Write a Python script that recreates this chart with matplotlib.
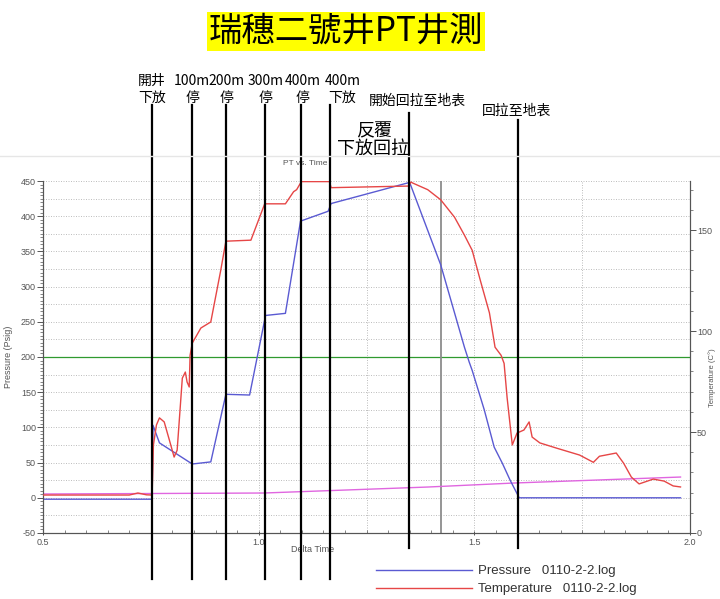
import matplotlib
matplotlib.use("Agg")
import matplotlib.pyplot as plt
from matplotlib.ticker import MultipleLocator
from matplotlib.transforms import blended_transform_factory
from matplotlib.lines import Line2D

plt.rcParams['font.family'] = ['Noto Sans CJK TC', 'DejaVu Sans']
plt.rcParams['axes.unicode_minus'] = False

# pressure log (Psig) vs delta time
p_time = [0.5, 0.753, 0.755, 0.770, 0.846, 0.889, 0.924, 0.979, 1.016, 1.062,
          1.097, 1.161, 1.168, 1.247, 1.350, 1.422, 1.477, 1.488, 1.495, 1.523,
          1.546, 1.565, 1.583, 1.604, 1.978]
p_val = [-2, -2, 103, 78, 48, 51, 147, 146, 259, 262,
         393, 407, 418, 431, 448, 331, 214, 193, 181, 125,
         72, 49, 25, 0, 0]

# temperature log (C) vs delta time
t_time = [0.5, 0.70, 0.72, 0.74, 0.753, 0.756, 0.763, 0.770, 0.781, 0.793,
          0.804, 0.811, 0.823, 0.830, 0.834, 0.839, 0.841, 0.846, 0.866, 0.889,
          0.912, 0.924, 0.982, 1.014, 1.062, 1.081, 1.088, 1.099, 1.164, 1.168,
          1.348, 1.353, 1.357, 1.392, 1.422, 1.454, 1.477, 1.495, 1.514, 1.535,
          1.548, 1.562, 1.569, 1.576, 1.588, 1.599, 1.615, 1.627, 1.634, 1.652,
          1.691, 1.744, 1.776, 1.790, 1.829, 1.846, 1.864, 1.882, 1.915, 1.940,
          1.961, 1.978]
t_val = [18.8, 18.8, 19.8, 18.9, 18.8, 43.6, 53.5, 57, 55, 46,
         37.6, 41, 76.7, 79.7, 74.8, 72.3, 88, 94, 101.5, 104.5,
         130, 144.5, 145, 163, 163, 169, 170, 174, 174, 171,
         171.8, 173.8, 173.3, 170, 165, 156.4, 147.5, 140, 125, 109,
         92, 88, 84, 67, 43.6, 49.5, 51, 55, 47.5, 44.6,
         42, 38.6, 35, 38, 39.6, 34.6, 27.7, 24.3, 26.7, 25.7,
         23.3, 22.8]

# third trace (left axis)
m_time = [0.5, 1.012, 1.392, 1.592, 1.978]
m_val = [5.4, 6.8, 15.3, 21, 29.5]

ref_pressure = 200

# operation events along the run
event_time = [0.753, 0.846, 0.924, 1.014, 1.097, 1.166]
event_text = [("開井", "下放"), ("100m", "停"), ("200m", "停"),
              ("300m", "停"), ("400m", "停"), ("400m", "下放")]
pull_time = [1.348, 1.601]
pull_text = ["開始回拉至地表", "回拉至地表"]
marker_time = 1.422

fig = plt.figure(figsize=(7.2, 5.99), dpi=100)
ax = fig.add_axes([43 / 720, 1 - 533 / 599, 647 / 720, 352 / 599])
ax2 = ax.twinx()

ax.set_xlim(0.5, 2.0)
ax.set_ylim(-50, 450)
ax2.set_ylim(0, 174.3)

for a in (ax, ax2):
    a.spines['top'].set_visible(False)
    for s in ('left', 'right', 'bottom'):
        a.spines[s].set_color('#555555')
        a.spines[s].set_linewidth(0.8)

ax.yaxis.set_major_locator(MultipleLocator(50))
ax.yaxis.set_minor_locator(MultipleLocator(5))
ax.xaxis.set_major_locator(MultipleLocator(0.5))
ax.xaxis.set_minor_locator(MultipleLocator(0.05))
ax2.yaxis.set_major_locator(MultipleLocator(50))
ax2.yaxis.set_minor_locator(MultipleLocator(10))
ax.tick_params(axis='y', which='major', length=4, width=0.7, color='#555555', pad=1)
ax.tick_params(axis='y', which='minor', length=2, width=0.5, color='#555555')
ax.tick_params(axis='x', which='major', length=3, width=0.7, color='#555555', direction='inout', pad=2)
ax.tick_params(axis='x', which='minor', length=2, width=0.5, color='#555555', direction='in')
ax2.tick_params(axis='y', which='major', length=4, width=0.7, color='#555555', pad=1)
ax2.tick_params(axis='y', which='minor', length=2, width=0.5, color='#555555')
for lab in ax.get_xticklabels() + ax.get_yticklabels() + ax2.get_yticklabels():
    lab.set_fontproperties('Liberation Sans')
    lab.set_fontsize(6.5)
    lab.set_color('#555555')

# dotted grid
for v in range(-25, 451, 25):
    if v != ref_pressure:
        ax.axhline(v, color='#b4b4b4', lw=0.6, ls=(0, (1.2, 1.8)), zorder=0)
for v in (0.75, 1.0, 1.25, 1.5, 1.75):
    ax.axvline(v, color='#b4b4b4', lw=0.6, ls=(0, (1.2, 1.8)), zorder=0)

ax.axhline(ref_pressure, color='#2f9a2f', lw=0.9, zorder=1)
ax.axvline(marker_time, color='#8c8c8c', lw=1.3, zorder=1)

ax.plot(m_time, m_val, color='#e066e0', lw=1.0, zorder=2)
lp, = ax.plot(p_time, p_val, color='#5a5ad2', lw=1.0, zorder=3,
              label='Pressure   0110-2-2.log')
lt, = ax2.plot(t_time, t_val, color='#e64646', lw=1.0, zorder=3,
               label='Temperature   0110-2-2.log')

ax.set_ylabel('Pressure (Psig)', fontsize=6.5, family='Liberation Sans',
              color='#555555', labelpad=6)
ax.text(1.0348, 0.44, 'Temperature (C°)', transform=ax.transAxes, rotation=90,
        fontsize=5.5, family='Liberation Sans', color='#555555',
        ha='center', va='center')
ax.text(0.417, -0.048, 'Delta Time', transform=ax.transAxes, fontsize=6.5,
        family='Liberation Sans', color='#555555', ha='center', va='center')
ax.text(0.405, 1.05, 'PT vs. Time', transform=ax.transAxes, fontsize=6,
        family='Liberation Sans', color='#555555', ha='center', va='center')

# event lines running past the plot
tr = blended_transform_factory(ax.transData, fig.transFigure)
for t in event_time:
    fig.add_artist(Line2D([t, t], [1 - 105 / 599, 1 - 579 / 599], transform=tr,
                          color='black', lw=1.6))
fig.add_artist(Line2D([pull_time[0]] * 2, [1 - 113 / 599, 1 - 548 / 599],
                      transform=tr, color='black', lw=1.6))
fig.add_artist(Line2D([pull_time[1]] * 2, [1 - 120 / 599, 1 - 548 / 599],
                      transform=tr, color='black', lw=1.6))

label_shift = [0, 0, 1, 1, 2, 12]
for t, (top, bottom), dx in zip(event_time, event_text, label_shift):
    ax.annotate(top, xy=(t, 1 - 81 / 599), xycoords=tr, xytext=(dx * 0.72, 0),
                textcoords='offset points', ha='center', va='center',
                fontsize=10, annotation_clip=False)
    ax.annotate(bottom, xy=(t, 1 - 98 / 599), xycoords=tr, xytext=(dx * 0.72, 0),
                textcoords='offset points', ha='center', va='center',
                fontsize=10, annotation_clip=False)

ax.annotate(pull_text[0], xy=(pull_time[0], 1 - 101 / 599), xycoords=tr,
            xytext=(9 * 0.72, 0), textcoords='offset points',
            ha='center', va='center', fontsize=10, annotation_clip=False)
ax.annotate(pull_text[1], xy=(pull_time[1], 1 - 111 / 599), xycoords=tr,
            xytext=(-1 * 0.72, 0), textcoords='offset points',
            ha='center', va='center', fontsize=10, annotation_clip=False)
ax.annotate('反覆', xy=(pull_time[0], 1 - 131 / 599), xycoords=tr,
            xytext=(-35 * 0.72, 0), textcoords='offset points',
            ha='center', va='center', fontsize=13, annotation_clip=False)
ax.annotate('下放回拉', xy=(pull_time[0], 1 - 149 / 599), xycoords=tr,
            xytext=(-36 * 0.72, 0), textcoords='offset points',
            ha='center', va='center', fontsize=13, annotation_clip=False)

# faint frame line above chart
fig.add_artist(Line2D([0, 1], [1 - 156 / 599] * 2, color='#e6e6e6', lw=1.0))

fig.text(346 / 720, 1 - 31 / 599, '瑞穗二號井PT井測', fontsize=24,
         ha='center', va='center',
         bbox=dict(facecolor='#ffff00', edgecolor='none', pad=1.5))

fig.legend(handles=[lp, lt], loc='upper left',
           bbox_to_anchor=(376 / 720, 1 - 565 / 599), frameon=False,
           prop=dict(family='Liberation Sans', size=9.5), handlelength=7.3,
           handletextpad=0.4, labelspacing=0.45, borderaxespad=0,
           borderpad=0, labelcolor='#333333')

fig.savefig('out.png', dpi=100)
